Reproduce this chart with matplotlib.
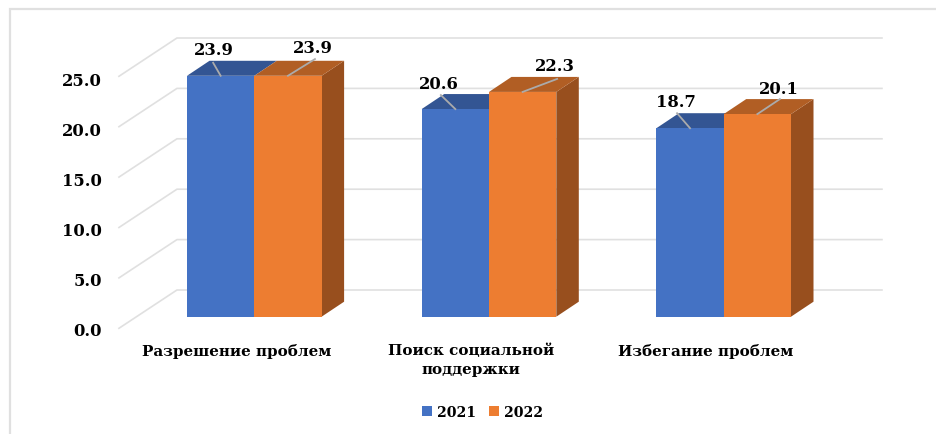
import matplotlib.pyplot as plt
from matplotlib.patches import Polygon, Patch

# Data
categories = ["Разрешение проблем", "Поиск социальной\nподдержки", "Избегание проблем"]
series_names = ["2021", "2022"]
values_2021 = [23.9, 20.6, 18.7]
values_2022 = [23.9, 22.3, 20.1]
y_ticks = [0, 5, 10, 15, 20, 25]

# Colours: front, top, side
front_colors = ["#4472C4", "#ED7D31"]
top_colors = ["#335593", "#B15E24"]
side_colors = ["#2F5597", "#984F1E"]
grid_color = "#E0E0E0"

# Scale of the front plane, pixels per category / per value unit
W, H = 937, 435
PX_X = 1 / 234.7
PX_Y = 1 / 10.08
X0_PX, Y0_PX = 254.3, 317.7

# Depth offsets in pixels
BAR_DX, BAR_DY = 22.5, 15.0
FLOOR_DX, FLOOR_DY = -18.0, -11.6   # front edge of the floor, from the bar front
WALL_DX, WALL_DY = 40.0, 26.7       # back wall, from the bar front
BAR_W = 67.3 * PX_X

# Label and leader offsets from top centre of each bar front, pixels
label_off = [[(-7, 26.7), (-16.5, 26), (-14, 27)],
             [(25, 28.7), (32.5, 26), (21.5, 26)]]
leader_off = [[(-7.5, 13), (-14.5, 14), (-13, 15)],
              [(27, 16.7), (34.5, 13), (22.5, 15)]]

# DejaVu Serif has the wide, low letters of the stretched picture
plt.rcParams['font.family'] = ['DejaVu Serif']
FS = 11.8
CAT_FS = 10.9
LEG_FS = 10.2

fig = plt.figure(figsize=(W / 100, H / 100), dpi=100, facecolor='white')
ax = fig.add_axes([0, 0, 1, 1])
ax.set_xlim(-X0_PX * PX_X, (W - X0_PX) * PX_X)
ax.set_ylim((Y0_PX - H) * PX_Y, Y0_PX * PX_Y)
ax.axis('off')

# Outer frame, open at the right and at the bottom of the picture
ax.plot([10 / W, 10 / W, 1], [0, 1 - 10 / H, 1 - 10 / H], transform=ax.transAxes,
        color=grid_color, lw=1.6, zorder=1, solid_joinstyle='miter')

# Gridlines: diagonal on the side wall, horizontal on the back wall
x_floor = -0.5 + FLOOR_DX * PX_X
x_wall = -0.5 + WALL_DX * PX_X
x_wall_end = x_wall + 705 * PX_X
for t in y_ticks:
    y_front = t + FLOOR_DY * PX_Y
    y_back = t + WALL_DY * PX_Y
    ax.plot([x_floor, x_wall, x_wall_end], [y_front, y_back, y_back],
            color=grid_color, lw=1.2, zorder=1)
    ax.text(x_floor - 17 * PX_X, y_front - 0.2 - t * 0.008, f"{t:.1f}", ha='right', va='center',
            fontsize=FS, fontweight='bold', color='black', zorder=5)

# Bars with their top and side faces
for s, vals in enumerate([values_2021, values_2022]):
    xs = [i - BAR_W + s * BAR_W for i in range(len(vals))]
    ax.bar(xs, vals, width=BAR_W, align='edge', color=front_colors[s], zorder=3 + 0.01 * s)
    for i, (x, v) in enumerate(zip(xs, vals)):
        dx, dy = BAR_DX * PX_X, BAR_DY * PX_Y
        ax.add_patch(Polygon([(x, v), (x + BAR_W, v), (x + BAR_W + dx, v + dy), (x + dx, v + dy)],
                             closed=True, fc=top_colors[s], ec='none', zorder=2.5 + 0.01 * s))
        if s == 1:
            ax.add_patch(Polygon([(x + BAR_W, 0), (x + BAR_W + dx, dy), (x + BAR_W + dx, v + dy), (x + BAR_W, v)],
                                 closed=True, fc=side_colors[s], ec='none', zorder=2.5))
        xc = x + BAR_W / 2
        lx, ly = leader_off[s][i]
        ax.plot([xc, xc + lx * PX_X], [v, v + ly * PX_Y], color='#ABABAB', lw=1.3, zorder=4)
        tx, ty = label_off[s][i]
        ax.text(xc + tx * PX_X, v + ty * PX_Y, f"{v:.1f}", ha='center', va='center',
                fontsize=FS, fontweight='bold', color='black', zorder=5)

# Category labels
for i, cat in enumerate(categories):
    ax.text(i + FLOOR_DX * PX_X, -26 * PX_Y, cat, ha='center', va='top', fontsize=CAT_FS,
            fontweight='bold', color='black', linespacing=1.4, zorder=5)

# Legend
handles = [Patch(facecolor=c, label=n) for c, n in zip(front_colors, series_names)]
leg = ax.legend(handles=handles, ncol=2, loc='center', bbox_to_anchor=(482.5 / W, 1 - 413 / H),
                frameon=False, prop={'weight': 'bold', 'size': LEG_FS},
                handlelength=0.7, handleheight=0.7, handletextpad=0.35, columnspacing=0.9,
                borderpad=0, borderaxespad=0)

fig.savefig('out.png', dpi=100, facecolor='white')
plt.close(fig)
